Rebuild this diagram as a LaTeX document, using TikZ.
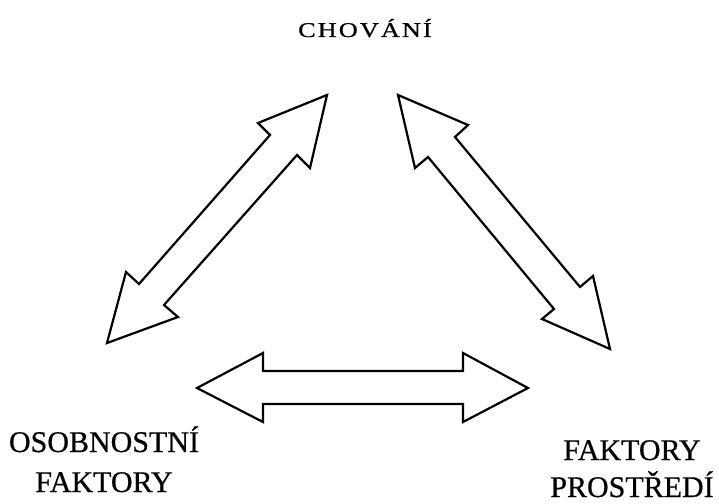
\documentclass[tikz,border=0pt]{standalone}
\usepackage{fontspec}
\setmainfont{Liberation Serif}[FakeBold=0.6]
\begin{document}
\begin{tikzpicture}[x=1pt,y=-1pt,
  blockarrow/.style={draw=black, fill=white, line width=2.2pt, line join=miter},
  label/.style={anchor=base, inner sep=0pt, font=\fontsize{30}{36}\selectfont}]
\useasboundingbox (0,0) rectangle (719,503);
% text nodes
\node[anchor=base, inner sep=0pt, font=\fontsize{21}{24}\selectfont\addfontfeatures{LetterSpace=8}] (chov) at (365,37) {\scalebox{1.25}[1]{CHOVÁNÍ}};
\node[label] (osob) at (104,452) {OSOBNOSTNÍ};
\node[label] (osobf) at (104,492) {FAKTORY};
\node[label] (prostf) at (632,460) {FAKTORY};
\node[label] (prost) at (632,497) {PROSTŘEDÍ};
% left double arrow (osobnostni <-> chovani)
\draw[blockarrow] (327,95) -- (310,168) -- (297,155) -- (164,305) -- (178,317)
  -- (107,343) -- (126,272) -- (139,284) -- (270,135) -- (258,123) -- cycle;
% right double arrow (chovani <-> prostredi)
\draw[blockarrow] (398,95) -- (468,125) -- (455,137) -- (580,287) -- (593,276)
  -- (610,349) -- (542,319) -- (554,309) -- (428,157) -- (415,168) -- cycle;
% bottom double arrow
\draw[blockarrow] (197,388) -- (263,353) -- (263,371) -- (463,371) -- (463,353)
  -- (528,388) -- (463,422) -- (463,404) -- (263,404) -- (263,422) -- cycle;
\end{tikzpicture}
\end{document}
